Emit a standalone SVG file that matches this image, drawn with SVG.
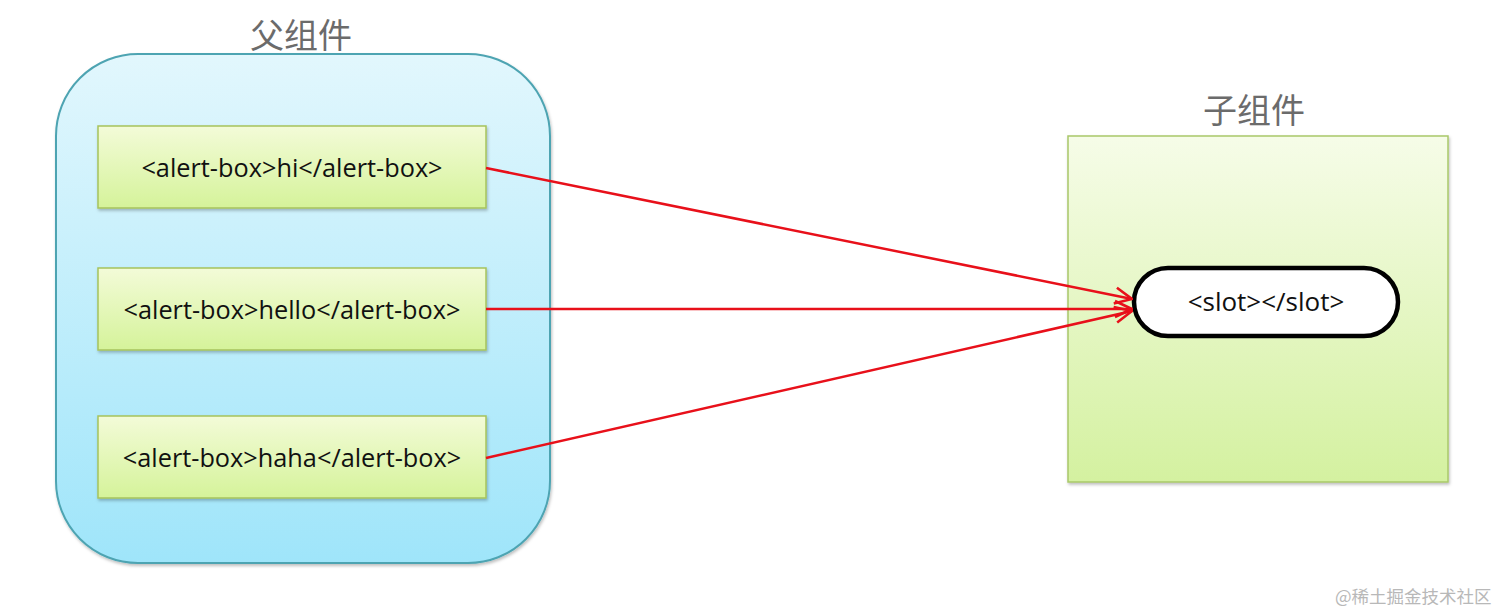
<svg xmlns="http://www.w3.org/2000/svg" width="1500" height="612" viewBox="0 0 1500 612">
<style>
.title{font-family:"Noto Sans CJK SC","Noto Sans",sans-serif;font-size:34px;fill:#6b6b6b;text-anchor:middle}
.lbl{font-family:"Open Sans","Noto Sans",sans-serif;font-size:25.3px;fill:#111;text-anchor:middle;dominant-baseline:central}
.item{fill:url(#gItem);stroke:#a6c35c;stroke-width:1.5;filter:url(#sh)}
.conn{stroke:#e8101a;stroke-width:2.5;fill:none;marker-end:url(#arr)}
.wm{font-family:"Noto Sans CJK SC",sans-serif;font-size:17.5px;fill:#b8b8b8}
</style>
<defs>
<linearGradient id="gParent" x1="0" y1="0" x2="0" y2="1"><stop offset="0" stop-color="#e2f7fd"/><stop offset="1" stop-color="#9fe5fa"/></linearGradient>
<linearGradient id="gItem" x1="0" y1="0" x2="0" y2="1"><stop offset="0" stop-color="#f3fbd8"/><stop offset="1" stop-color="#d5f39a"/></linearGradient>
<linearGradient id="gChild" x1="0" y1="0" x2="0" y2="1"><stop offset="0" stop-color="#f6fce8"/><stop offset="1" stop-color="#d4f1a0"/></linearGradient>
<filter id="sh" x="-10%" y="-10%" width="120%" height="130%"><feDropShadow dx="1" dy="2" stdDeviation="1.5" flood-color="#000" flood-opacity="0.25"/></filter>
<marker id="arr" viewBox="0 0 20 20" refX="19" refY="10" markerWidth="20" markerHeight="20" markerUnits="userSpaceOnUse" orient="auto"><path d="M2,2 L19,10 L2,18" fill="none" stroke="#e8101a" stroke-width="2.6"/></marker>
</defs>
<rect width="1500" height="612" fill="#ffffff"/>
<g id="parent">
<text class="title" x="301" y="48">父组件</text>
<rect x="56" y="54" width="494" height="509" rx="82" ry="82" fill="url(#gParent)" stroke="#4ea4b2" stroke-width="2" filter="url(#sh)"/>
</g>
<g id="item-hi"><rect class="item" x="98" y="126" width="388" height="82"/><text class="lbl" x="292" y="167">&lt;alert-box&gt;hi&lt;/alert-box&gt;</text></g>
<g id="item-hello"><rect class="item" x="98" y="268" width="388" height="82"/><text class="lbl" x="292" y="309">&lt;alert-box&gt;hello&lt;/alert-box&gt;</text></g>
<g id="item-haha"><rect class="item" x="98" y="416" width="388" height="82"/><text class="lbl" x="292" y="457">&lt;alert-box&gt;haha&lt;/alert-box&gt;</text></g>
<g id="child">
<text class="title" x="1254" y="123">子组件</text>
<rect x="1068" y="136" width="380" height="346" fill="url(#gChild)" stroke="#a9c86a" stroke-width="1.5" filter="url(#sh)"/>
</g>
<g id="slot">
<rect x="1134" y="268" width="264" height="68" rx="34" ry="34" fill="#fff" stroke="#000" stroke-width="4.5"/>
<text class="lbl" x="1266" y="301" style="font-size:26px">&lt;slot&gt;&lt;/slot&gt;</text>
</g>
<g id="connectors">
<line class="conn" x1="486" y1="168" x2="1132" y2="299"/>
<line class="conn" x1="486" y1="309" x2="1132" y2="309"/>
<line class="conn" x1="486" y1="458" x2="1132" y2="311"/>
</g>
<text class="wm" x="1335" y="603">@稀土掘金技术社区</text>
</svg>
